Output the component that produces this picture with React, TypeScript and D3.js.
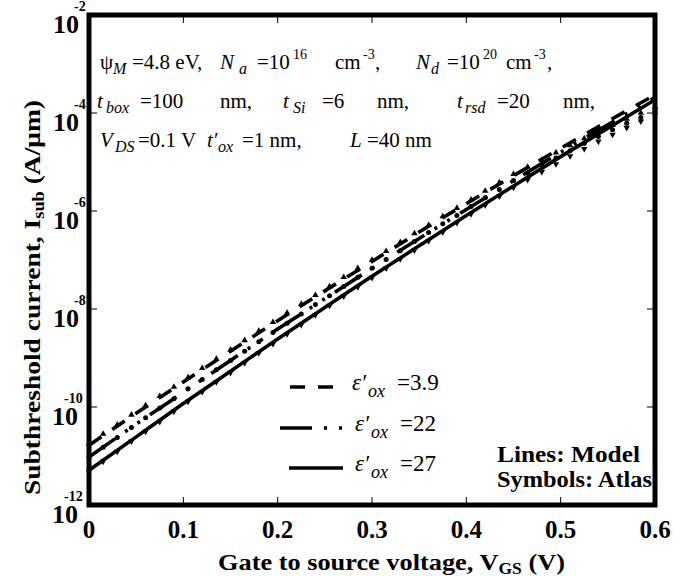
import * as d3 from "d3";

// gate voltage grid (V) for the model curves
const vgsModel = [0, 0.05, 0.1, 0.15, 0.2, 0.25, 0.3, 0.35, 0.4, 0.45, 0.5, 0.55, 0.6];
// log10 of subthreshold current (A/um), model lines
const model39 = [-10.78, -10.13, -9.49, -8.86, -8.24, -7.63, -7.03, -6.43, -5.85, -5.28, -4.72, -4.17, -3.63];
const model22 = [-11.02, -10.35, -9.7, -9.05, -8.41, -7.79, -7.17, -6.56, -5.97, -5.38, -4.8, -4.24, -3.68];
const model27 = [-11.29, -10.61, -9.93, -9.27, -8.61, -7.97, -7.33, -6.71, -6.09, -5.49, -4.89, -4.31, -3.73];

// Atlas symbols
const vgsAtlas = [
  0, 0.015, 0.03, 0.045, 0.06, 0.075, 0.09, 0.105, 0.12, 0.135, 0.15, 0.165, 0.18, 0.195,
  0.21, 0.225, 0.24, 0.255, 0.27, 0.285, 0.3, 0.315, 0.33, 0.345, 0.36, 0.375, 0.39, 0.405,
  0.42, 0.435, 0.45, 0.465, 0.48, 0.495, 0.51, 0.525, 0.54, 0.555, 0.57, 0.585, 0.6,
];
const atlas39 = [
  -10.78, -10.58, -10.39, -10.19, -10.0, -9.81, -9.62, -9.43, -9.24, -9.05, -8.86, -8.67, -8.48, -8.3,
  -8.11, -7.93, -7.75, -7.57, -7.38, -7.2, -7.03, -6.85, -6.67, -6.49, -6.32, -6.14, -5.97, -5.8,
  -5.62, -5.45, -5.28, -5.13, -4.99, -4.84, -4.69, -4.55, -4.41, -4.28, -4.15, -4.03, -3.91,
];
const atlas22 = [
  -11.02, -10.82, -10.62, -10.42, -10.22, -10.02, -9.83, -9.63, -9.44, -9.24, -9.05, -8.86, -8.67, -8.48,
  -8.29, -8.1, -7.91, -7.73, -7.54, -7.35, -7.17, -6.99, -6.81, -6.62, -6.44, -6.26, -6.09, -5.91,
  -5.73, -5.56, -5.38, -5.23, -5.07, -4.92, -4.77, -4.62, -4.48, -4.34, -4.21, -4.09, -3.96,
];
const atlas27 = [
  -11.29, -11.08, -10.88, -10.67, -10.47, -10.27, -10.06, -9.86, -9.66, -9.46, -9.27, -9.07, -8.87, -8.68,
  -8.48, -8.29, -8.09, -7.9, -7.71, -7.52, -7.33, -7.14, -6.95, -6.77, -6.58, -6.4, -6.21, -6.03,
  -5.85, -5.67, -5.49, -5.33, -5.17, -5.01, -4.85, -4.7, -4.55, -4.41, -4.27, -4.14, -4.01,
];

const xTicks = [0, 0.1, 0.2, 0.3, 0.4, 0.5, 0.6];
const xTickLabels = ["0", "0.1", "0.2", "0.3", "0.4", "0.5", "0.6"];
const yTickExps = [-2, -4, -6, -8, -10, -12];
const legendLabels = ["=3.9", "=22", "=27"];

const W = 699;
const H = 577;
const left = 89;
const right = 655;
const top = 15;
const bottom = 505;
const serif = "'Liberation Serif', 'Times New Roman', serif";

export default function App() {
  const x = d3.scaleLinear().domain([0, 0.6]).range([left, right]);
  const y = d3.scaleLog().domain([1e-12, 1e-2]).range([bottom, top]);

  const line = d3
    .line<number>()
    .x((_, i) => x(vgsModel[i]))
    .y((d) => y(Math.pow(10, d)))
    .curve(d3.curveMonotoneX);

  const series = [
    { model: model39, atlas: atlas39, dash: "15 13", sym: "up" },
    { model: model22, atlas: atlas22, dash: "32 12 3 12 3 12", sym: "circle" },
    { model: model27, atlas: atlas27, dash: "", sym: "down" },
  ];

  const tri = d3.symbol().type(d3.symbolTriangle).size(18)();

  return (
    <svg
      width={W}
      height={H}
      style={{ position: "absolute", left: 0, top: 0, background: "#fff" }}
      fontFamily={serif}
    >
      <rect width={W} height={H} fill="#fff" />
      {series.map((s, k) => (
        <g key={k}>
          <path
            d={line(s.model) ?? ""}
            fill="none"
            stroke="#000"
            strokeWidth={3.6}
            strokeDasharray={s.dash || undefined}
          />
          {s.atlas.map((v, i) => {
            const cx = x(vgsAtlas[i]);
            const cy = y(Math.pow(10, v));
            if (s.sym === "circle") return <circle key={i} cx={cx} cy={cy} r={2.5} fill="#000" />;
            return (
              <path
                key={i}
                d={tri ?? ""}
                transform={`translate(${cx},${cy + (s.sym === "up" ? -1.5 : 1.5)}) rotate(${s.sym === "up" ? 0 : 180})`}
                fill="#000"
              />
            );
          })}
        </g>
      ))}

      {/* ticks */}
      {xTicks.map((t) => (
        <g key={t}>
          <line x1={x(t)} x2={x(t)} y1={bottom} y2={bottom - 8} stroke="#000" strokeWidth={1} />
          <line x1={x(t)} x2={x(t)} y1={top} y2={top + 8} stroke="#000" strokeWidth={1} />
        </g>
      ))}
      {yTickExps.map((e) => (
        <g key={e}>
          <line x1={left} x2={left + 8} y1={y(Math.pow(10, e))} y2={y(Math.pow(10, e))} stroke="#000" />
          <line x1={right} x2={right - 8} y1={y(Math.pow(10, e))} y2={y(Math.pow(10, e))} stroke="#000" />
        </g>
      ))}
      <rect
        x={left}
        y={top}
        width={right - left}
        height={bottom - top}
        fill="none"
        stroke="#000"
        strokeWidth={5}
      />

      {/* tick labels */}
      {xTicks.map((t, i) => (
        <text key={t} x={x(t)} y={538} textAnchor="middle" fontSize={25} fontWeight="bold">
          {xTickLabels[i]}
        </text>
      ))}
      {yTickExps.map((e) => {
        const ty = y(Math.pow(10, e));
        const twoDigit = e <= -10;
        return (
          <g key={e} fontWeight="bold">
            <text x={twoDigit ? 78 : 79} y={ty + 18} textAnchor="end" fontSize={26}>
              10
            </text>
            <text x={twoDigit ? 64 : 74} y={ty - 4} fontSize={14}>
              {e}
            </text>
          </g>
        );
      })}

      {/* axis titles */}
      <text
        x={218}
        y={570}
        fontSize={24}
        fontWeight="bold"
        textLength={347}
        lengthAdjust="spacingAndGlyphs"
      >
        Gate to source voltage, V
        <tspan fontSize={16} dy={4}>GS</tspan>
        <tspan dy={-4}> (V)</tspan>
      </text>
      <text
        transform="translate(40,495) rotate(-90)"
        fontSize={24}
        fontWeight="bold"
        textLength={395}
        lengthAdjust="spacingAndGlyphs"
      >
        Subthreshold current, I
        <tspan fontSize={16} dy={4}>sub</tspan>
        <tspan dy={-4}> (A/μm)</tspan>
      </text>

      {/* parameter annotation */}
      <g fontSize={21}>
        <text x={100} y={69}>ψ</text>
        <text x={113} y={74} fontSize={16} fontStyle="italic">M</text>
        <text x={132} y={69}>=4.8 eV,</text>
        <text x={220} y={69} fontStyle="italic">N</text>
        <text x={239} y={74} fontSize={16} fontStyle="italic">a</text>
        <text x={257} y={69}>=10</text>
        <text x={293} y={59} fontSize={14}>16</text>
        <text x={335} y={69}>cm</text>
        <text x={363} y={59} fontSize={14}>-3</text>
        <text x={375} y={69}>,</text>
        <text x={416} y={69} fontStyle="italic">N</text>
        <text x={431} y={74} fontSize={16} fontStyle="italic">d</text>
        <text x={447} y={69}>=10</text>
        <text x={483} y={59} fontSize={14}>20</text>
        <text x={506} y={69}>cm</text>
        <text x={534} y={59} fontSize={14}>-3</text>
        <text x={547} y={69}>,</text>

        <text x={97} y={108} fontStyle="italic">t</text>
        <text x={106} y={113} fontSize={16} fontStyle="italic">box</text>
        <text x={140} y={108}>=100</text>
        <text x={220} y={108}>nm,</text>
        <text x={283} y={108} fontStyle="italic">t</text>
        <text x={293} y={113} fontSize={16} fontStyle="italic">Si</text>
        <text x={322} y={108}>=6</text>
        <text x={377} y={108}>nm,</text>
        <text x={457} y={108} fontStyle="italic">t</text>
        <text x={465} y={113} fontSize={16} fontStyle="italic">rsd</text>
        <text x={497} y={108}>=20</text>
        <text x={563} y={108}>nm,</text>

        <text x={100} y={147} fontStyle="italic">V</text>
        <text x={115} y={152} fontSize={16} fontStyle="italic">DS</text>
        <text x={138} y={147}>=0.1 V</text>
        <text x={207} y={147} fontStyle="italic">t′</text>
        <text x={218} y={152} fontSize={16} fontStyle="italic">ox</text>
        <text x={242} y={147}>=1 nm,</text>
        <text x={350} y={147} fontStyle="italic">L</text>
        <text x={367} y={147}>=40 nm</text>
      </g>

      {/* legend */}
      {series.map((s, k) => {
        const ly = [387, 428, 468][k];
        const x0 = [290, 280, 289][k];
        const x1 = [333, 343, 343][k];
        const tx = [352, 355, 355][k];
        return (
          <g key={k}>
            <line
              x1={x0}
              x2={x1}
              y1={ly}
              y2={ly}
              stroke="#000"
              strokeWidth={3.6}
              strokeDasharray={s.dash || undefined}
            />
            <text x={tx} y={ly + 3} fontSize={23} fontStyle="italic">ε′</text>
            <text x={tx + 16} y={ly + 10} fontSize={18} fontStyle="italic">ox</text>
            <text x={tx + 45} y={ly + 3} fontSize={23}>{legendLabels[k]}</text>
          </g>
        );
      })}

      <text
        x={497}
        y={462}
        fontSize={23}
        fontWeight="bold"
        textLength={143}
        lengthAdjust="spacingAndGlyphs"
      >
        Lines: Model
      </text>
      <text
        x={497}
        y={487}
        fontSize={23}
        fontWeight="bold"
        textLength={155}
        lengthAdjust="spacingAndGlyphs"
      >
        Symbols: Atlas
      </text>
    </svg>
  );
}
